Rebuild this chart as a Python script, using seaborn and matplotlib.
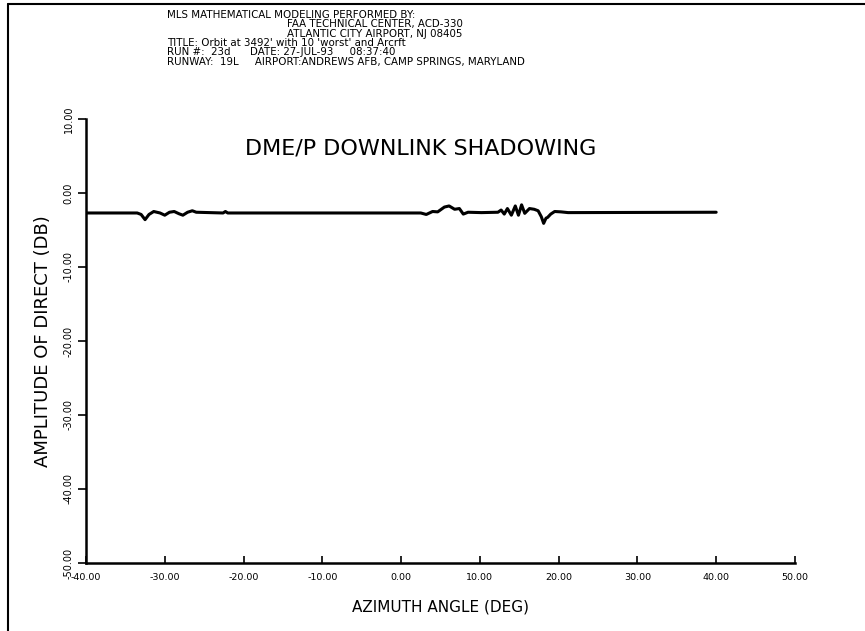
import numpy as np
import pandas as pd
import matplotlib
matplotlib.use("Agg")
import matplotlib.pyplot as plt
from matplotlib.lines import Line2D
import seaborn as sns

# azimuth angle (deg) and amplitude of direct (dB)
azimuth = [-40.0, -33.5, -33.0, -32.5, -32.0, -31.4, -30.6, -30.0, -29.4, -28.8,
           -28.2, -27.7, -27.1, -26.5, -26.0, -22.6, -22.3, -22.0, 2.5, 3.2,
           4.0, 4.65, 5.5, 6.1, 6.8, 7.4, 7.9, 8.5, 10.2, 12.3,
           12.7, 13.1, 13.5, 14.0, 14.5, 14.9, 15.3, 15.7, 16.3, 16.9,
           17.4, 17.8, 18.1, 18.4, 18.6, 19.0, 19.5, 20.3, 21.2, 40.0]
amplitude = [-2.7, -2.7, -2.9, -3.6, -2.9, -2.5, -2.7, -3.0, -2.6, -2.5,
             -2.8, -3.0, -2.6, -2.4, -2.6, -2.7, -2.5, -2.7, -2.7, -2.9,
             -2.5, -2.55, -1.9, -1.75, -2.2, -2.1, -2.85, -2.6, -2.65, -2.6,
             -2.3, -2.85, -2.1, -3.0, -1.75, -3.0, -1.6, -2.75, -2.1, -2.2,
             -2.4, -3.2, -4.1, -3.4, -3.3, -2.85, -2.5, -2.55, -2.65, -2.6]

x_ticks = [-40, -30, -20, -10, 0, 10, 20, 30, 40, 50]
y_ticks = [-50, -40, -30, -20, -10, 0, 10]

header = ["MLS MATHEMATICAL MODELING PERFORMED BY:",
          "FAA TECHNICAL CENTER, ACD-330",
          "ATLANTIC CITY AIRPORT, NJ 08405",
          "TITLE: Orbit at 3492' with 10 'worst' and Arcrft",
          "RUN #:  23d      DATE: 27-JUL-93     08:37:40",
          "RUNWAY:  19L     AIRPORT:ANDREWS AFB, CAMP SPRINGS, MARYLAND"]
header_indent = [167, 287, 287, 167, 167, 167]

df = pd.DataFrame({"az": azimuth, "amp": amplitude})

sns.set_style("ticks")
plt.rcParams['font.family'] = ['DejaVu Sans']
plt.rcParams['axes.unicode_minus'] = False
plt.rcParams['text.color'] = 'black'
plt.rcParams['axes.labelcolor'] = 'black'

fig = plt.figure(figsize=(8.65, 6.31), dpi=100)
ax = fig.add_axes([0.0994, 0.1078, 0.8196, 0.7036])

sns.lineplot(data=df, x="az", y="amp", color="black", linewidth=2.2, ax=ax, sort=False)

ax.set_xlim(-40, 50)
ax.set_ylim(-50, 10)
ax.set_xticks(x_ticks)
ax.set_xticklabels(["%.2f" % v for v in x_ticks], fontsize=6.8)
ax.set_yticks(y_ticks)
ax.set_yticklabels(["%.2f" % v for v in y_ticks], fontsize=7, rotation=90, va="center")
ax.tick_params(axis="x", direction="in", length=5, width=1.2, pad=7, colors="black")
ax.tick_params(axis="y", direction="out", length=6, width=1.2, pad=3, colors="black")
for s in ["top", "right"]:
    ax.spines[s].set_visible(False)
for s in ["left", "bottom"]:
    ax.spines[s].set_linewidth(1.8)
    ax.spines[s].set_color("black")

ax.set_xlabel("AZIMUTH ANGLE (DEG)", fontsize=11, labelpad=13)
ax.set_ylabel("AMPLITUDE OF DIRECT (DB)", fontsize=13, labelpad=8)
ax.text(2.5, 6, "DME/P DOWNLINK SHADOWING", fontsize=16, ha="center", va="center")

# header block
for i, line in enumerate(header):
    fig.text(header_indent[i] / 865, 1 - (15 + 9.3 * i) / 631, line,
             fontsize=7.4, ha="left", va="center")

# page border (left and top edges)
fig.add_artist(Line2D([0.0092, 0.0092], [0.0, 0.9937], color="black", lw=1.5))
fig.add_artist(Line2D([0.0092, 1.0], [0.9937, 0.9937], color="black", lw=1.5))

plt.savefig("out.png", dpi=100)
